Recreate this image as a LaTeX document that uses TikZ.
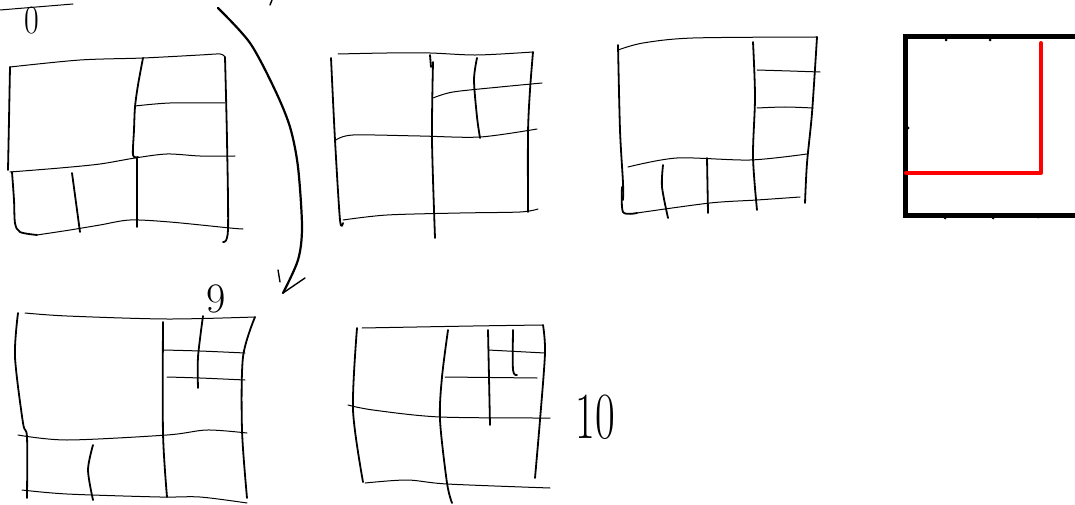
\documentclass[tikz,border=0pt]{standalone}
\begin{document}
\begin{tikzpicture}[x=1pt,y=-1pt,
  hl/.style={line width=1pt, line cap=round, line join=round},
  vl/.style={line width=1.8pt, line cap=round, line join=round},
  arr/.style={line width=2.2pt, line cap=round, line join=round},
  frame/.style={line width=5pt},
  redl/.style={red, line width=4pt, line cap=round, line join=round},
  digit/.style={inner sep=0pt, anchor=base}]
\useasboundingbox (0,0) rectangle (1075,505);
% ---- label 0 ----
\node[digit] (zero) at (32,34) {\fontsize{40}{40}\selectfont\scalebox{0.8}[1]{0}};
\draw[hl] (0,10) -- (73,4);
% ---- grid 1 ----
\draw[hl] plot[smooth] coordinates {(10,67) (80,60) (143,58) (200,55) (220,54) (225,57)};
\draw[vl] plot[smooth] coordinates {(225,57) (227,140) (228,230) (223,242)};
\draw[vl] plot[smooth] coordinates {(10,67) (9,120) (8,170)};
\draw[vl] plot[smooth] coordinates {(12,172) (14,200) (15,223) (20,232) (37,235)};
\draw[hl] plot[smooth] coordinates {(37,235) (70,230) (100,225) (130,220) (170,222) (230,228) (243,229)};
\draw[vl] plot[smooth] coordinates {(143,58) (138,85) (135,107) (134,130) (133,155) (138,157)};
\draw[hl] plot[smooth] coordinates {(135,106) (170,103) (225,103)};
\draw[hl] plot[smooth] coordinates {(10,172) (60,168) (100,164) (135,158) (167,154) (200,156) (235,156)};
\draw[vl] (137,158) -- (137,227);
\draw[vl] (72,173) -- (80,232);
% ---- arrow ----
\draw[arr] plot[smooth] coordinates {(218,8) (250,43) (275,90) (290,127) (298,167) (302,227) (298,260) (283,293)};
\draw[hl, line width=1.4pt] (283,293) -- (305,278);
\draw[hl, line width=1.4pt] (278,270) -- (280,282);
\draw[hl, line width=1.4pt] (272,0) -- (270,5);
% ---- grid 2 ----
\draw[hl] plot[smooth] coordinates {(338,54) (387,53) (430,53) (477,55) (533,52)};
\draw[vl] plot[smooth] coordinates {(331,58) (335,140) (340,220) (343,223)};
\draw[hl] plot[smooth] coordinates {(343,220) (387,215) (460,213) (520,212) (538,209)};
\draw[vl] plot[smooth] coordinates {(533,52) (530,90) (528,133) (528,212)};
\draw[vl] (430,55) -- (431,67);
\draw[vl] plot[smooth] coordinates {(433,62) (432,140) (435,238)};
\draw[vl] plot[smooth] coordinates {(477,58) (474,80) (477,117) (480,138)};
\draw[hl] plot[smooth] coordinates {(433,98) (453,92) (500,87) (542,83)};
\draw[hl] plot[smooth] coordinates {(336,140) (353,135) (420,136) (480,137) (537,129)};
% ---- grid 3 ----
\draw[hl] plot[smooth] coordinates {(618,50) (643,43) (693,38) (817,37)};
\draw[vl] plot[smooth] coordinates {(618,45) (620,130) (623,183) (623,200)};
\draw[vl] plot[smooth] coordinates {(622,187) (623,212) (637,213)};
\draw[hl] plot[smooth] coordinates {(637,213) (710,203) (757,200) (800,197)};
\draw[vl] plot[smooth] coordinates {(817,37) (812,113) (807,163) (805,203)};
\draw[vl] plot[smooth] coordinates {(753,42) (755,97) (753,157) (757,210)};
\draw[hl] plot[smooth] coordinates {(757,70) (790,71) (820,72)};
\draw[hl] plot[smooth] coordinates {(757,108) (785,107) (813,108)};
\draw[hl] plot[smooth] coordinates {(628,167) (677,158) (750,160) (807,154)};
\draw[vl] plot[smooth] coordinates {(663,165) (662,187) (668,218)};
\draw[vl] (707,158) -- (708,213);
% ---- red box ----
\draw[frame] (1085,37) -- (905,37) -- (905,215) -- (1085,215);
\draw[redl] (1041,43) -- (1041,173) -- (906,173);
\foreach \p in {(946,40),(990,40),(945,218),(993,218),(1038,217),(908,128)}
  \fill \p circle (1.5pt);
% ---- grid 4 ----
\node[digit] (nine) at (216,312) {\fontsize{42}{42}\selectfont 9};
\draw[hl] plot[smooth] coordinates {(25,313) (67,316) (167,319) (255,317)};
\draw[vl] plot[smooth] coordinates {(18,313) (15,357) (23,423) (27,437) (27,498)};
\draw[vl] plot[smooth] coordinates {(255,317) (243,357) (242,430) (247,498)};
\draw[vl] plot[smooth] coordinates {(163,322) (163,433) (167,497)};
\draw[hl] plot[smooth] coordinates {(163,350) (200,351) (245,353)};
\draw[hl] plot[smooth] coordinates {(167,377) (200,378) (245,380)};
\draw[vl] plot[smooth] coordinates {(203,316) (198,357) (198,388)};
\draw[hl] plot[smooth] coordinates {(18,435) (67,440) (167,435) (207,430) (247,433)};
\draw[hl] plot[smooth] coordinates {(22,490) (67,494) (160,497) (200,497) (247,503)};
\draw[vl] plot[smooth] coordinates {(93,445) (88,470) (93,500)};
% ---- grid 5 ----
\draw[hl] plot[smooth] coordinates {(362,328) (473,326) (543,325)};
\draw[vl] plot[smooth] coordinates {(357,328) (353,410) (363,482)};
\draw[vl] plot[smooth] coordinates {(543,325) (545,353) (540,420) (535,478)};
\draw[hl] plot[smooth] coordinates {(365,483) (407,480) (447,484) (550,488)};
\draw[vl] plot[smooth] coordinates {(448,330) (442,377) (440,420) (447,483) (452,503)};
\draw[hl] plot[smooth] coordinates {(348,405) (373,410) (440,417) (550,418)};
\draw[hl] (445,377) -- (537,378);
\draw[vl] (488,330) -- (490,425);
\draw[hl] (488,350) -- (545,353);
\draw[vl] plot[smooth] coordinates {(513,330) (513,370) (517,375)};
\node[digit] (ten) at (595,438) {\fontsize{66}{66}\selectfont\scalebox{0.65}[1]{10}};
\end{tikzpicture}
\end{document}
